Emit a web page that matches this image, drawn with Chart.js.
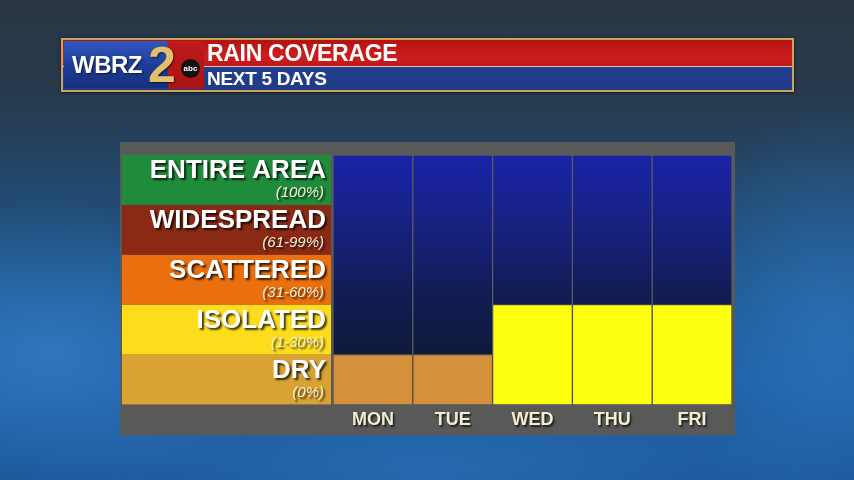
<!DOCTYPE html>
<html><head><meta charset="utf-8">
<script src="https://cdn.jsdelivr.net/npm/chart.js@4.4.1/dist/chart.umd.min.js"></script>
<style>
html,body{margin:0;padding:0;width:854px;height:480px;overflow:hidden;font-family:"Liberation Sans",Arial,sans-serif;}
body{background:
 radial-gradient(ellipse 240px 150px at 50px 350px, rgba(70,150,230,0.45), rgba(0,0,0,0)),
 radial-gradient(ellipse 160px 220px at 830px 330px, rgba(60,140,220,0.40), rgba(0,0,0,0)),
 radial-gradient(ellipse 420px 90px at 430px 470px, rgba(60,140,220,0.35), rgba(0,0,0,0)),
 linear-gradient(180deg,#2a3643 0%,#27394b 18%,#22496f 40%,#1d5891 62%,#1c5ea3 80%,#1a5596 100%);}
canvas{position:absolute;left:0;top:0;}
.abs{position:absolute;}
#hdr{left:61px;top:38px;width:729px;height:50px;border:2px solid #c9a45c;box-shadow:0 1px 3px rgba(0,0,0,0.6);}
#red{left:63px;top:40px;width:729px;height:26px;background:linear-gradient(180deg,#b51212,#cc1d1d 60%,#c21818);border-bottom:1px solid #e6c3b0;}
#blue{left:63px;top:67px;width:729px;height:23px;background:linear-gradient(180deg,#243f8f,#1f3a86);}
#logo{left:64px;top:41px;width:104px;height:47px;background:linear-gradient(180deg,#3058c0,#1d3b95 55%,#17307c);border-radius:2px;}
#redlogo{left:168px;top:41px;width:36px;height:48px;background:linear-gradient(180deg,#c01a1a,#a81414);}
#wbrz{left:72px;top:53px;font:bold 24px/24px "Liberation Sans",Arial,sans-serif;color:#fff;letter-spacing:-0.5px;text-shadow:1px 1px 2px rgba(0,0,0,0.6);}
#two{left:148px;top:40px;font:bold 50px/50px "Liberation Sans",Arial,sans-serif;color:#e3bf6c;text-shadow:1px 1px 2px rgba(0,0,0,0.6);}
#abc{left:181px;top:59px;width:19px;height:19px;border-radius:50%;background:#111;color:#fff;font:bold 8px/19px "Liberation Sans",Arial,sans-serif;text-align:center;}
#t1{left:207px;top:42px;font:bold 23px/23px "Liberation Sans",Arial,sans-serif;color:#fff;letter-spacing:-0.3px;}
#t2{left:207px;top:69px;font:bold 19px/19px "Liberation Sans",Arial,sans-serif;color:#fff;letter-spacing:-0.3px;}
</style>
</head><body>
<canvas id="c" width="854" height="480"></canvas>
<div id="hdr" class="abs"></div>
<div id="red" class="abs"></div>
<div id="blue" class="abs"></div>
<div id="logo" class="abs"></div>
<div id="redlogo" class="abs"></div>
<div id="wbrz" class="abs">WBRZ</div>
<div id="two" class="abs">2</div>
<div id="abc" class="abs">abc</div>
<div id="t1" class="abs">RAIN COVERAGE</div>
<div id="t2" class="abs">NEXT 5 DAYS</div>
<script>
// ---- data ----
const days = ['MON','TUE','WED','THU','FRI'];
const levels = ['DRY','ISOLATED','SCATTERED','WIDESPREAD','ENTIRE AREA'];
const levelRanges = ['(0%)','(1-30%)','(31-60%)','(61-99%)','(100%)'];
const coverage = ['DRY','DRY','ISOLATED','ISOLATED','ISOLATED'];
// ---- styles ----
const bandColors = ['#d9a232','#fddc1c','#e96f0f','#8a2a15','#1f8c3b'];
const barColors  = ['#d4903b','#ffff12','#e96f0f','#8a2a15','#1f8c3b'];

const barHeights = coverage.map(c => levels.indexOf(c) + 1);
const remainder = barHeights.map(h => levels.length - h);

function navyGrad(ctx){
  const ch = ctx.chart, a = ch.chartArea;
  if(!a) return '#14206a';
  const g = ch.ctx.createLinearGradient(0, a.top, 0, a.bottom);
  g.addColorStop(0, '#1a23a8');
  g.addColorStop(0.3, '#17217e');
  g.addColorStop(0.55, '#121c55');
  g.addColorStop(0.8, '#0f1a3a');
  g.addColorStop(1, '#0e1932');
  return g;
}

const panelPlugin = {
  id: 'panel',
  beforeDraw(chart){
    const {ctx, chartArea: a, scales:{y}} = chart;
    ctx.save();
    ctx.fillStyle = '#595959';
    ctx.fillRect(a.left - 213, a.top - 13, (a.right + 3) - (a.left - 213), (a.bottom + 31) - (a.top - 13));
    const x0 = a.left - 211, x1 = a.left - 2;
    levels.forEach((lv, i) => {
      const yb = y.getPixelForValue(i), yt = y.getPixelForValue(i + 1);
      ctx.fillStyle = bandColors[i];
      ctx.fillRect(x0, yt, x1 - x0, yb - yt);
    });
    levels.forEach((lv, i) => {
      const yt = y.getPixelForValue(i + 1);
      ctx.shadowColor = 'rgba(0,0,0,0.75)';
      ctx.shadowOffsetX = 2; ctx.shadowOffsetY = 2; ctx.shadowBlur = 2;
      ctx.textAlign = 'right'; ctx.textBaseline = 'alphabetic';
      ctx.fillStyle = '#ffffff';
      ctx.font = 'bold 26px "Liberation Sans", Arial, sans-serif';
      ctx.fillText(lv, a.left - 7, yt + 23);
      ctx.fillStyle = '#f6f0d4';
      ctx.font = 'italic 15px "Liberation Sans", Arial, sans-serif';
      ctx.fillText(levelRanges[i], a.left - 9, yt + 42);
    });
    ctx.restore();
    // shadow for axis tick labels
    ctx.shadowColor = 'rgba(0,0,0,0.7)';
    ctx.shadowOffsetX = 1.5; ctx.shadowOffsetY = 1.5; ctx.shadowBlur = 2;
  },
  beforeDatasetsDraw(chart){
    const ctx = chart.ctx;
    ctx.shadowColor = 'rgba(0,0,0,0)';
    ctx.shadowOffsetX = 0; ctx.shadowOffsetY = 0; ctx.shadowBlur = 0;
  }
};

new Chart(document.getElementById('c'), {
  type: 'bar',
  data: {
    labels: days,
    datasets: [
      { label: 'Rain coverage', data: barHeights,
        backgroundColor: coverage.map(c => barColors[levels.indexOf(c)]),
        borderColor: '#4e4e4e', borderWidth: 1, borderSkipped: 'start',
        barPercentage: 1, categoryPercentage: 1 },
      { label: 'Sky', data: remainder,
        backgroundColor: navyGrad,
        borderColor: '#5a5a5a', borderWidth: 1, borderSkipped: 'start',
        barPercentage: 1, categoryPercentage: 1 }
    ]
  },
  options: {
    responsive: false, animation: false,
    layout: { padding: { left: 333, right: 122, top: 155, bottom: 44 } },
    plugins: { legend: { display: false }, tooltip: { enabled: false }, title: { display: false } },
    scales: {
      x: { stacked: true,
           grid: { display: false, drawTicks: false }, border: { display: false },
           ticks: { color: '#f2eecf', padding: 5,
                    font: { family: '"Liberation Sans", Arial, sans-serif', size: 18, weight: 'bold', lineHeight: 1.2 } } },
      y: { stacked: true, display: false, min: 0, max: levels.length }
    }
  },
  plugins: [panelPlugin]
});
</script>
</body></html>
